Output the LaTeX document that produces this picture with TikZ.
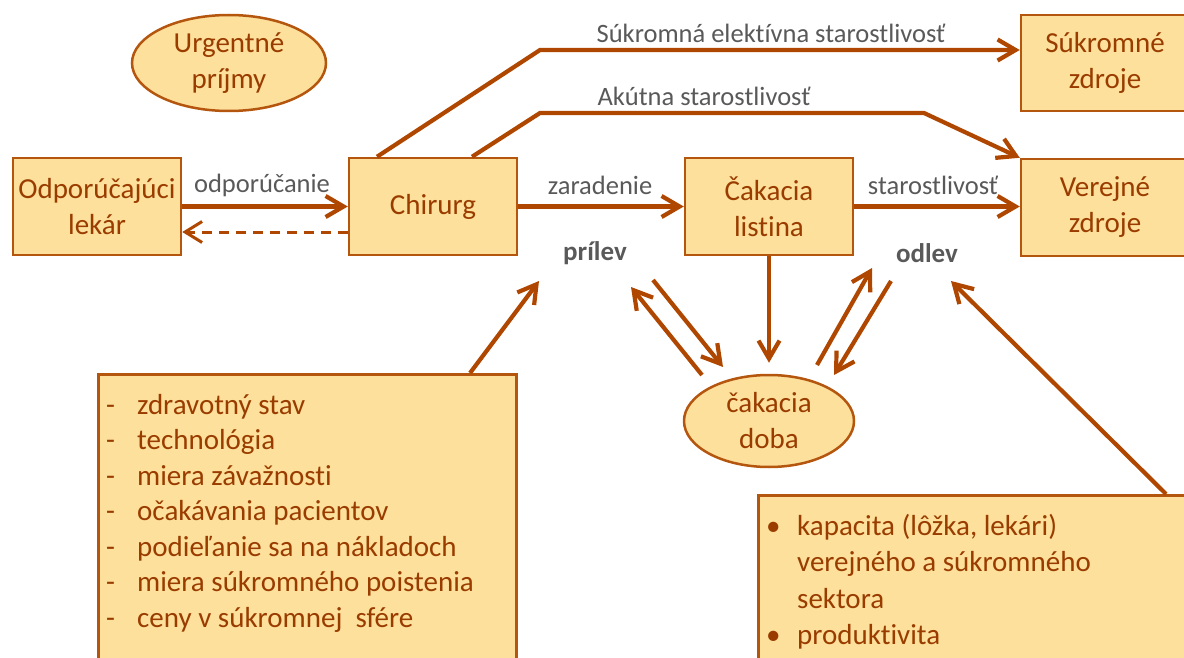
\documentclass[tikz,border=0pt]{standalone}
\usepackage{fontspec}
\setmainfont{Carlito}[Ligatures={NoCommon}]
\usetikzlibrary{arrows.meta,shapes.geometric}
\definecolor{boxfill}{HTML}{FCE09C}
\definecolor{boxline}{HTML}{B5560F}
\definecolor{arr}{HTML}{AF4700}
\definecolor{txt}{HTML}{9A3C00}
\definecolor{lblc}{HTML}{595959}
\tikzset{
  box/.style={draw=boxline, line width=2.5pt, fill=boxfill, text=txt,
    font=\fontsize{29}{36}\selectfont, align=center,
    minimum width=168pt, minimum height=97pt, inner sep=0pt},
  oval/.style={ellipse, draw=boxline, line width=2.5pt, fill=boxfill, text=txt,
    font=\fontsize{29}{36}\selectfont, align=center,
    minimum width=148pt, minimum height=76pt, inner sep=0pt},
  flow/.style={draw=arr, line width=4.2pt, -{Straight Barb[length=18pt,width=21pt]}},
  backflow/.style={draw=arr, line width=3pt, dash pattern=on 10pt off 7pt,
    -{Straight Barb[length=17pt,width=21pt]}},
  lbl/.style={text=lblc, font=\fontsize{26.5}{30}\selectfont, inner sep=0pt},
  blbl/.style={text=lblc, font=\bfseries\fontsize{27}{30}\selectfont, inner sep=0pt},
  listtext/.style={text=txt, font=\fontsize{29}{35.5}\selectfont, inner sep=0pt},
}
\begin{document}
\begin{tikzpicture}[x=1pt,y=-1pt]
\clip (0,0) rectangle (1184,658);
% nodes
\node[oval, minimum width=194pt, minimum height=96pt] (urg) at (229,63) {Urgentné\\príjmy};
\node[box] (odp) at (97,206.5) {Odporúčajúci\\lekár};
\node[box] (chir) at (433,206.5) {Chirurg};
\node[box] (cak) at (769,206.5) {Čakacia\\listina};
\node[box] (vz) at (1105,207.5) {Verejné\\zdroje};
\node[box, minimum height=96pt] (sz) at (1105,63) {Súkromné\\zdroje};
\node[oval, minimum width=170pt, minimum height=92pt] (doba) at (769,421) {čakacia\\doba};

% factor boxes
\node[box, anchor=north west, minimum width=418pt, minimum height=320pt] (lb) at (97,373) {};
\node[listtext, anchor=base west] (lbt) at (106,414) {\begin{tabular}[t]{@{}p{31pt}@{}l@{}}
-& zdravotný stav\\
-& technológia\\
-& miera závažnosti\\
-& očakávania pacientov\\
-& podieľanie sa na nákladoch\\
-& miera súkromného poistenia\\
-& ceny v súkromnej \ sfére
\end{tabular}};
\node[box, anchor=north west, minimum width=460pt, minimum height=220pt] (rb) at (757,494) {};
\node[listtext, anchor=base west] (rbt) at (766,535) {\fontsize{29}{36.5}\selectfont\begin{tabular}[t]{@{}p{31pt}@{}l@{}}
•& kapacita (lôžka, lekári)\\
 & verejného a súkromného\\
 & sektora\\
•& produktivita
\end{tabular}};

% labels
\node[lbl] (lodp) at (262,185) {odporúčanie};
\node[lbl] (lzar) at (600,185) {zaradenie};
\node[lbl] (lsta) at (933,185) {starostlivosť};
\node[lbl] (lsuk) at (771,33) {Súkromná elektívna starostlivosť};
\node[lbl] (lakt) at (704,96) {Akútna starostlivosť};
\node[blbl] (pril) at (595,253) {prílev};
\node[blbl] (odl) at (927,253) {odlev};

% coordinates
\coordinate (k1) at (540,50);
\coordinate (k2) at (540,113);
\coordinate (k3) at (924,113);
\coordinate (pa1) at (702,375);
\coordinate (pa2) at (631,287);
\coordinate (pb1) at (653,280);
\coordinate (pb2) at (723,367);
\coordinate (oc1) at (817,365);
\coordinate (oc2) at (872,268);
\coordinate (od1) at (891,281);
\coordinate (od2) at (834,375);
\coordinate (lf1) at (470,373);
\coordinate (lf2) at (539,281);
\coordinate (rf1) at (1166,494);
\coordinate (rf2) at (951,281);

% connectors
\draw[flow] (odp) -- (chir);
\draw[backflow] ([yshift=-25.5pt]chir.west) -- ([yshift=-25.5pt]odp.east);
\draw[flow] (chir) -- (cak);
\draw[flow] (cak.east) -- (cak.east -| vz.west);
\draw[flow] ([xshift=-56pt]chir.north) -- (k1) -- (k1 -| sz.west);
\draw[flow] ([xshift=39pt]chir.north) -- (k2) -- (k3) -- (vz.north west);
\draw[flow, shorten >=11pt] (cak.south) -- (doba.north);
\draw[flow] (pa1) -- (pa2);
\draw[flow] (pb1) -- (pb2);
\draw[flow] (oc1) -- (oc2);
\draw[flow] (od1) -- (od2);
\draw[flow] (lf1) -- (lf2);
\draw[flow] (rf1) -- (rf2);
\end{tikzpicture}
\end{document}
